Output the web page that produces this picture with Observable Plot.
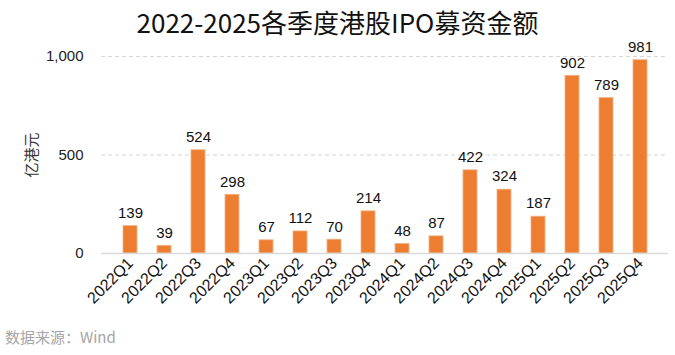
<!DOCTYPE html>
<html><head><meta charset="utf-8">
<script src="https://cdn.jsdelivr.net/npm/d3@7"></script>
<script src="https://cdn.jsdelivr.net/npm/@observablehq/plot@0.6"></script>
<style>
body{margin:0;background:#fff;width:675px;height:355px;overflow:hidden;position:relative;font-family:"Liberation Sans",Arial,sans-serif;}
#chart{position:absolute;top:28px;left:0;}
#title{position:absolute;top:3px;left:0;width:675px;text-align:center;font-family:"Noto Sans CJK SC","Liberation Sans",sans-serif;font-size:26px;color:#111;line-height:38px;z-index:2;}
#caption{position:absolute;left:5px;top:326px;font-family:"Noto Sans CJK SC","Liberation Sans",sans-serif;font-size:15px;color:#a6a6a6;}
#ylab{position:absolute;left:30px;top:155px;transform:translate(-50%,-50%) rotate(-90deg);font-family:"Noto Sans CJK SC",sans-serif;font-size:15px;color:#333;white-space:nowrap;}
</style></head>
<body>
<div id="chart"></div>
<div id="title">2022-2025各季度港股IPO募资金额</div>
<div id="ylab">亿港元</div>
<div id="caption">数据来源：Wind</div>
<script>
const quarters = ["2022Q1","2022Q2","2022Q3","2022Q4","2023Q1","2023Q2","2023Q3","2023Q4","2024Q1","2024Q2","2024Q3","2024Q4","2025Q1","2025Q2","2025Q3","2025Q4"];
const amounts = [139,39,524,298,67,112,70,214,48,87,422,324,187,902,789,981];
const yTicks = [0,500,1000];
const data = quarters.map((q,i)=>({q, v: amounts[i]}));

const plot = Plot.plot({
  width: 675, height: 327,
  marginTop: 28, marginBottom: 102, marginLeft: 101, marginRight: 7,
  style: {fontFamily: '"Liberation Sans", Arial, sans-serif', fontSize: "15px", color: "#222", background: "transparent"},
  x: {domain: quarters, padding: 0.6, label: null},
  y: {domain: [0,1000], label: null},
  marks: [
    Plot.ruleY([500,1000], {stroke: "#d6d6d6", strokeDasharray: "4,3"}),
    Plot.barY(data, {x: "q", y: "v", fill: "#ED7D31", stroke: "#F4B183", strokeWidth: 0.8}),
    Plot.ruleY([0], {stroke: "#d9d9d9", strokeWidth: 1.5}),
    Plot.text(data, {x: "q", y: "v", text: d => String(d.v), dy: -13, fontSize: 15, fill: "#111"}),
    Plot.axisY({ticks: yTicks, tickFormat: d3.format(","), tickSize: 0, tickPadding: 18, fontSize: 15, fill: "#222"}),
    Plot.axisX({tickSize: 0, tickPadding: 7, tickRotate: -45, fontSize: 16, fill: "#111", label: null})
  ]
});
document.getElementById("chart").appendChild(plot);
</script>
</body></html>
